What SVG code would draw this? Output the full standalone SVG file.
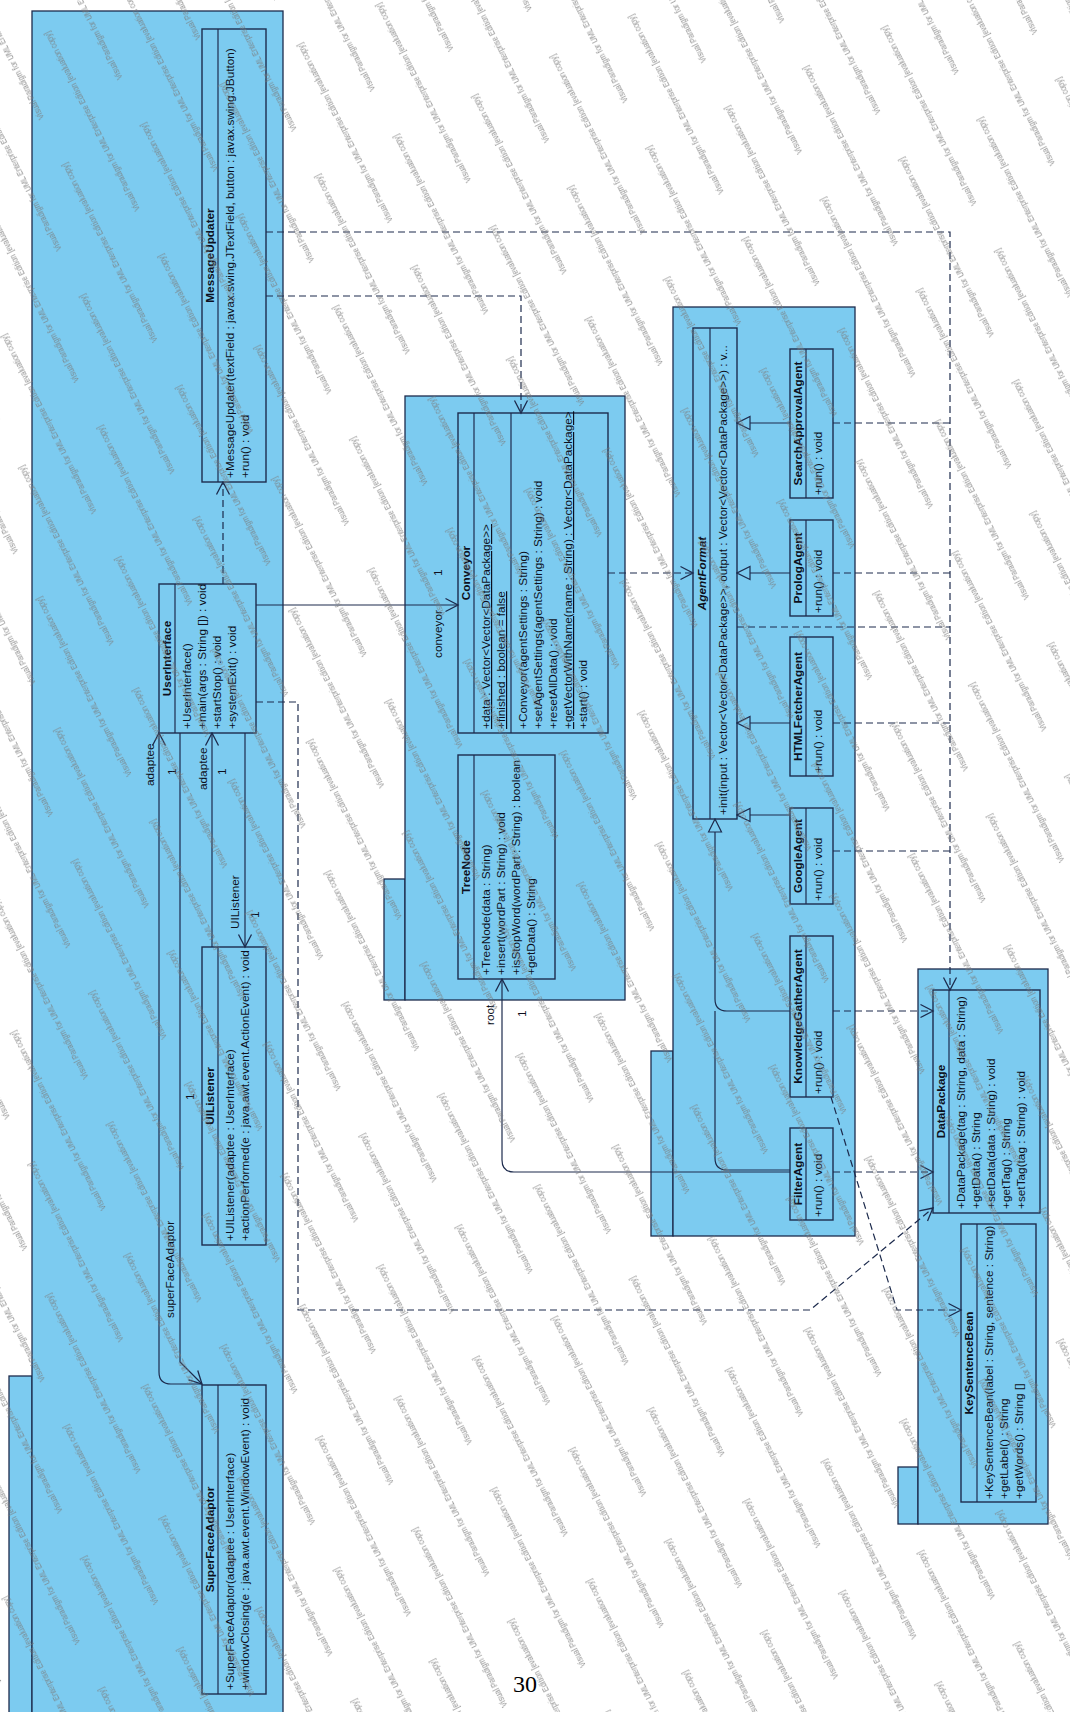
<svg xmlns="http://www.w3.org/2000/svg" width="1070" height="1712" viewBox="0 0 1070 1712">
<style>
.pkg{fill:#7ccbf0;stroke:#1d2b4d;stroke-width:1.3}
.cls{fill:#7ccbf0;stroke:#1d2b4d;stroke-width:1.4}
.dv{stroke:#1d2b4d;stroke-width:1.2}
text{font-family:"Liberation Sans",Arial,sans-serif;font-size:11.8px;fill:#0d1020}
.nm{font-weight:bold;text-anchor:middle}
.it{font-style:italic}
.u{text-decoration:underline}
.ln{fill:none;stroke:#1d2b4d;stroke-width:1.2}
.dash{stroke-dasharray:7,4}
.wm{font-size:8.6px;fill:#7a7a7a}
.pg{font-family:"Liberation Serif","Times New Roman",serif;font-size:24px;fill:#000}
</style>
<defs>
<marker id="open" markerUnits="userSpaceOnUse" markerWidth="16" markerHeight="16" viewBox="0 0 16 16" refX="14.5" refY="8" orient="auto"><path d="M2,1.5 L14.5,8 L2,14.5" fill="none" stroke="#1d2b4d" stroke-width="1.3"/></marker>
<marker id="tri" markerUnits="userSpaceOnUse" markerWidth="16" markerHeight="16" viewBox="0 0 16 16" refX="15" refY="8" orient="auto"><path d="M2,1.5 L15,8 L2,14.5 Z" fill="#7ccbf0" stroke="#1d2b4d" stroke-width="1.2"/></marker>
<pattern id="wmp" patternUnits="userSpaceOnUse" width="250" height="88" patternTransform="rotate(-117)">
<text class="wm" x="0" y="30" textLength="200" lengthAdjust="spacingAndGlyphs">Visual Paradigm for UML Enterprise Edition [evaluation copy]</text>
<text class="wm" x="125" y="74" textLength="200" lengthAdjust="spacingAndGlyphs">Visual Paradigm for UML Enterprise Edition [evaluation copy]</text>
<text class="wm" x="-125" y="74" textLength="200" lengthAdjust="spacingAndGlyphs">Visual Paradigm for UML Enterprise Edition [evaluation copy]</text>
</pattern>
</defs>
<rect width="1070" height="1712" fill="#fff"/>

<g id="packages">
<g id="pkg-ui"><rect class="pkg" x="9" y="1376" width="23" height="345"/><rect class="pkg" x="32" y="11" width="251" height="1710"/></g>
<g id="pkg-conveyor"><rect class="pkg" x="384" y="879" width="21" height="121"/><rect class="pkg" x="405" y="396" width="220" height="604"/></g>
<g id="pkg-agents"><rect class="pkg" x="651" y="1051" width="22" height="185"/><rect class="pkg" x="673" y="307" width="182" height="929"/></g>
<g id="pkg-data"><rect class="pkg" x="898" y="1467" width="20" height="57"/><rect class="pkg" x="918" y="969" width="130" height="555"/></g>
</g>

<g id="MessageUpdater">
<rect class="cls" x="202" y="29" width="64" height="453"/><line class="dv" x1="218" y1="29" x2="218" y2="482"/>
<text class="nm" transform="translate(214,255.5) rotate(-90)">MessageUpdater</text>
<text transform="translate(234,478) rotate(-90)">+MessageUpdater(textField : javax.swing.JTextField, button : javax.swing.JButton)</text>
<text transform="translate(249,478) rotate(-90)">+run() : void</text>
</g>

<g id="UserInterface">
<rect class="cls" x="159" y="584" width="97" height="149"/><line class="dv" x1="175" y1="584" x2="175" y2="733"/>
<text class="nm" transform="translate(171,658.5) rotate(-90)">UserInterface</text>
<text transform="translate(191,729) rotate(-90)">+UserInterface()</text>
<text transform="translate(206,729) rotate(-90)">+main(args : String []) : void</text>
<text transform="translate(221,729) rotate(-90)">+startStop() : void</text>
<text transform="translate(236,729) rotate(-90)">+systemExit() : void</text>
</g>

<g id="UIListener">
<rect class="cls" x="202" y="947" width="64" height="298"/><line class="dv" x1="218" y1="947" x2="218" y2="1245"/>
<text class="nm" transform="translate(214,1096) rotate(-90)">UIListener</text>
<text transform="translate(234,1241) rotate(-90)">+UIListener(adaptee : UserInterface)</text>
<text transform="translate(249,1241) rotate(-90)">+actionPerformed(e : java.awt.event.ActionEvent) : void</text>
</g>

<g id="SuperFaceAdaptor">
<rect class="cls" x="202" y="1385" width="64" height="309"/><line class="dv" x1="218" y1="1385" x2="218" y2="1694"/>
<text class="nm" transform="translate(214,1539.5) rotate(-90)">SuperFaceAdaptor</text>
<text transform="translate(234,1690) rotate(-90)">+SuperFaceAdaptor(adaptee : UserInterface)</text>
<text transform="translate(249,1690) rotate(-90)">+windowClosing(e : java.awt.event.WindowEvent) : void</text>
</g>

<g id="Conveyor">
<rect class="cls" x="458" y="413" width="150" height="320"/><line class="dv" x1="474" y1="413" x2="474" y2="733"/><line class="dv" x1="511" y1="413" x2="511" y2="733"/>
<text class="nm" transform="translate(470,573) rotate(-90)">Conveyor</text>
<text class="u" transform="translate(490,729) rotate(-90)">+data : Vector&lt;Vector&lt;DataPackage&gt;&gt;</text>
<text class="u" transform="translate(505,729) rotate(-90)">+finished : boolean = false</text>
<text transform="translate(527,729) rotate(-90)">+Conveyor(agentSettings : String)</text>
<text transform="translate(542,729) rotate(-90)">+setAgentSettings(agentSettings : String) : void</text>
<text transform="translate(557,729) rotate(-90)">+resetAllData() : void</text>
<text class="u" transform="translate(572,729) rotate(-90)">+getVectorWithName(name : String) : Vector&lt;DataPackage&gt;</text>
<text transform="translate(587,729) rotate(-90)">+start() : void</text>
</g>

<g id="TreeNode">
<rect class="cls" x="458" y="755" width="97" height="224"/><line class="dv" x1="474" y1="755" x2="474" y2="979"/>
<text class="nm" transform="translate(470,867) rotate(-90)">TreeNode</text>
<text transform="translate(490,975) rotate(-90)">+TreeNode(data : String)</text>
<text transform="translate(505,975) rotate(-90)">+insert(wordPart : String) : void</text>
<text transform="translate(520,975) rotate(-90)">+isStopWord(wordPart : String) : boolean</text>
<text transform="translate(535,975) rotate(-90)">+getData() : String</text>
</g>

<g id="AgentFormat">
<rect class="cls" x="693" y="328" width="44" height="491"/><line class="dv" x1="710" y1="328" x2="710" y2="819"/>
<text class="nm it" transform="translate(706,573.5) rotate(-90)">AgentFormat</text>
<text transform="translate(727,815) rotate(-90)">+init(input : Vector&lt;Vector&lt;DataPackage&gt;&gt;, output : Vector&lt;Vector&lt;DataPackage&gt;&gt;) : v...</text>
</g>

<g id="SearchApprovalAgent">
<rect class="cls" x="790" y="349" width="43" height="149"/><line class="dv" x1="806" y1="349" x2="806" y2="498"/>
<text class="nm" transform="translate(802,423.5) rotate(-90)">SearchApprovalAgent</text>
<text transform="translate(822,495) rotate(-90)">+run() : void</text>
</g>
<g id="PrologAgent">
<rect class="cls" x="790" y="520" width="43" height="96"/><line class="dv" x1="806" y1="520" x2="806" y2="616"/>
<text class="nm" transform="translate(802,568) rotate(-90)">PrologAgent</text>
<text transform="translate(822,613) rotate(-90)">+run() : void</text>
</g>
<g id="HTMLFetcherAgent">
<rect class="cls" x="790" y="637" width="43" height="139"/><line class="dv" x1="806" y1="637" x2="806" y2="776"/>
<text class="nm" transform="translate(802,706.5) rotate(-90)">HTMLFetcherAgent</text>
<text transform="translate(822,773) rotate(-90)">+run() : void</text>
</g>
<g id="GoogleAgent">
<rect class="cls" x="790" y="808" width="43" height="96"/><line class="dv" x1="806" y1="808" x2="806" y2="904"/>
<text class="nm" transform="translate(802,856) rotate(-90)">GoogleAgent</text>
<text transform="translate(822,901) rotate(-90)">+run() : void</text>
</g>
<g id="KnowledgeGatherAgent">
<rect class="cls" x="790" y="936" width="43" height="161"/><line class="dv" x1="806" y1="936" x2="806" y2="1097"/>
<text class="nm" transform="translate(802,1016.5) rotate(-90)">KnowledgeGatherAgent</text>
<text transform="translate(822,1094) rotate(-90)">+run() : void</text>
</g>
<g id="FilterAgent">
<rect class="cls" x="790" y="1128" width="43" height="92"/><line class="dv" x1="806" y1="1128" x2="806" y2="1220"/>
<text class="nm" transform="translate(802,1174) rotate(-90)">FilterAgent</text>
<text transform="translate(822,1217) rotate(-90)">+run() : void</text>
</g>

<g id="DataPackage">
<rect class="cls" x="933" y="990" width="107" height="223"/><line class="dv" x1="949" y1="990" x2="949" y2="1213"/>
<text class="nm" transform="translate(945,1101.5) rotate(-90)">DataPackage</text>
<text transform="translate(965,1209) rotate(-90)">+DataPackage(tag : String, data : String)</text>
<text transform="translate(980,1209) rotate(-90)">+getData() : String</text>
<text transform="translate(995,1209) rotate(-90)">+setData(data : String) : void</text>
<text transform="translate(1010,1209) rotate(-90)">+getTag() : String</text>
<text transform="translate(1025,1209) rotate(-90)">+setTag(tag : String) : void</text>
</g>

<g id="KeySentenceBean">
<rect class="cls" x="961" y="1224" width="75" height="278"/><line class="dv" x1="977" y1="1224" x2="977" y2="1502"/>
<text class="nm" transform="translate(973,1363) rotate(-90)">KeySentenceBean</text>
<text transform="translate(993,1499) rotate(-90)">+KeySentenceBean(label : String, sentence : String)</text>
<text transform="translate(1008,1499) rotate(-90)">+getLabel() : String</text>
<text transform="translate(1023,1499) rotate(-90)">+getWords() : String []</text>
</g>

<g id="connectors">
<path class="ln" d="M256,605 L458,605" marker-end="url(#open)"/>
<path class="ln" d="M202,1384 L171,1384 Q159,1384 159,1372 L159,733" marker-end="url(#open)"/>
<path class="ln" d="M180,733 L180,1362 L202,1384" marker-end="url(#open)"/>
<path class="ln" d="M212,947 L212,733" marker-end="url(#open)"/>
<path class="ln" d="M245,733 L245,947" marker-end="url(#open)"/>
<path class="ln" d="M790,1172 L514,1172 Q502,1172 502,1160 L502,979" marker-end="url(#open)"/>
<path class="ln dash" d="M223,584 L223,482" marker-end="url(#open)"/>
<path class="ln dash" d="M266,232 L950,232 L950,990" marker-end="url(#open)"/>
<path class="ln dash" d="M266,296 L521,296 L521,413" marker-end="url(#open)"/>
<path class="ln dash" d="M256,702 L298,702 L298,1310 L810,1310 L933,1208" marker-end="url(#open)"/>
<path class="ln dash" d="M608,573 L693,573" marker-end="url(#open)"/>
<path class="ln dash" d="M833,423 L950,423"/>
<path class="ln dash" d="M833,573 L950,573"/>
<path class="ln dash" d="M737,627 L950,627"/>
<path class="ln dash" d="M833,723 L950,723"/>
<path class="ln dash" d="M833,851 L950,851"/>
<path class="ln dash" d="M833,1011 L933,1011" marker-end="url(#open)"/>
<path class="ln dash" d="M833,1172 L933,1172" marker-end="url(#open)"/>
<path class="ln dash" d="M831,1097 L897,1310 L961,1310" marker-end="url(#open)"/>
<path class="ln" d="M790,423 L737,423" marker-end="url(#tri)"/>
<path class="ln" d="M790,573 L737,573" marker-end="url(#tri)"/>
<path class="ln" d="M790,723 L737,723" marker-end="url(#tri)"/>
<path class="ln" d="M790,815 L737,815" marker-end="url(#tri)"/>
<path class="ln" d="M790,1170 L727,1170 Q715,1170 715,1158 L715,1011"/>
<path class="ln" d="M790,1011 L727,1011 Q715,1011 715,999 L715,819" marker-end="url(#tri)"/>
<text transform="translate(442,658) rotate(-90)">conveyor</text>
<text transform="translate(442,576) rotate(-90)">1</text>
<text transform="translate(154,786) rotate(-90)">adaptee</text>
<text transform="translate(176,775) rotate(-90)">1</text>
<text transform="translate(207,790) rotate(-90)">adaptee</text>
<text transform="translate(226,775) rotate(-90)">1</text>
<text transform="translate(239,929) rotate(-90)">UIListener</text>
<text transform="translate(259,918) rotate(-90)">1</text>
<text transform="translate(174,1318) rotate(-90)">superFaceAdaptor</text>
<text transform="translate(194,1100) rotate(-90)">1</text>
<text transform="translate(494,1025) rotate(-90)">root</text>
<text transform="translate(526,1017) rotate(-90)">1</text>
</g>

<rect id="watermark" width="1070" height="1712" fill="url(#wmp)" opacity="0.85"/>
<text class="pg" x="513" y="1692">30</text>
</svg>
